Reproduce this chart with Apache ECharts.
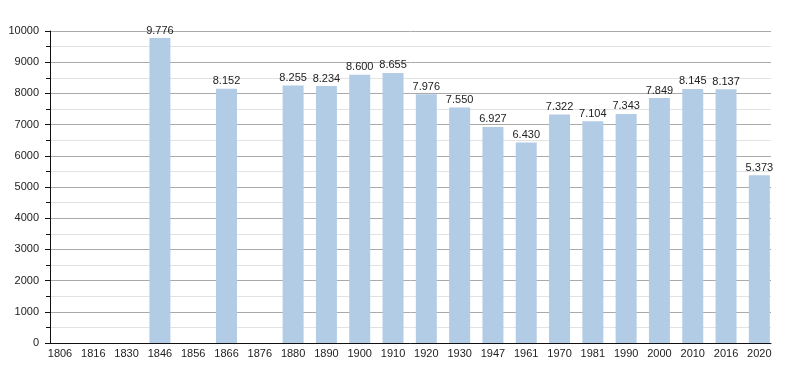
<!DOCTYPE html>
<html>
<head>
<meta charset="utf-8">
<script src="https://cdn.jsdelivr.net/npm/echarts@6/dist/echarts.min.js"></script>
<style>html,body{margin:0;padding:0;background:#fff}#c{width:800px;height:373px}</style>
</head>
<body>
<div id="c"></div>
<script>
const categories = ['1806','1816','1830','1846','1856','1866','1876','1880','1890','1900','1910','1920','1930','1947','1961','1970','1981','1990','2000','2010','2016','2020'];
const population = [null,null,null,9776,null,8152,null,8255,8234,8600,8655,7976,7550,6927,6430,7322,7104,7343,7849,8145,8137,5373];
const yMin = 0, yMax = 10000, yStep = 1000;

const fmt = v => String(v).replace(/\B(?=(\d{3})+(?!\d))/g, '.');
const font = '"Liberation Sans", Arial, sans-serif';
const chart = echarts.init(document.getElementById('c'), null, {renderer: 'canvas'});
chart.setOption({
  animation: false,
  backgroundColor: '#fff',
  grid: [
    {left: 50, right: 29, top: 31, bottom: 30},
    {left: 43.35, right: 24, top: 31, bottom: 30}
  ],
  xAxis: [
    {gridIndex: 0, type: 'value', min: 0, max: 1,
     axisLine: {show: true, lineStyle: {color: '#111', width: 1}},
     axisTick: {show: false}, axisLabel: {show: false}, splitLine: {show: false}},
    {gridIndex: 1, type: 'category', data: categories,
     axisLine: {show: false}, axisTick: {show: false}, splitLine: {show: false},
     axisLabel: {show: true, interval: 0, color: '#222', fontSize: 11, fontFamily: font, margin: 5}}
  ],
  yAxis: [
    {gridIndex: 0, type: 'value', min: yMin, max: yMax, interval: yStep,
     axisLine: {show: true, lineStyle: {color: '#111', width: 1}},
     axisTick: {show: true, length: 5, lineStyle: {color: '#111'}},
     minorTick: {show: true, splitNumber: 2, length: 4, lineStyle: {color: '#111'}},
     axisLabel: {color: '#222', fontSize: 11, fontFamily: font, margin: 11, formatter: v => String(v)},
     splitLine: {show: true, lineStyle: {color: '#aaaaaa', width: 1}},
     minorSplitLine: {show: true, lineStyle: {color: '#e2e2e2', width: 1}}},
    {gridIndex: 1, type: 'value', min: yMin, max: yMax, interval: yStep, show: false,
     splitLine: {show: false}}
  ],
  series: [{
    type: 'bar', xAxisIndex: 1, yAxisIndex: 1,
    data: population, barWidth: 21,
    itemStyle: {color: '#b3cce6'},
    label: {show: true, position: 'top', distance: 2, color: '#222', fontSize: 11, fontFamily: font,
            formatter: p => p.value == null ? '' : fmt(p.value)}
  }]
});
</script>
</body>
</html>
